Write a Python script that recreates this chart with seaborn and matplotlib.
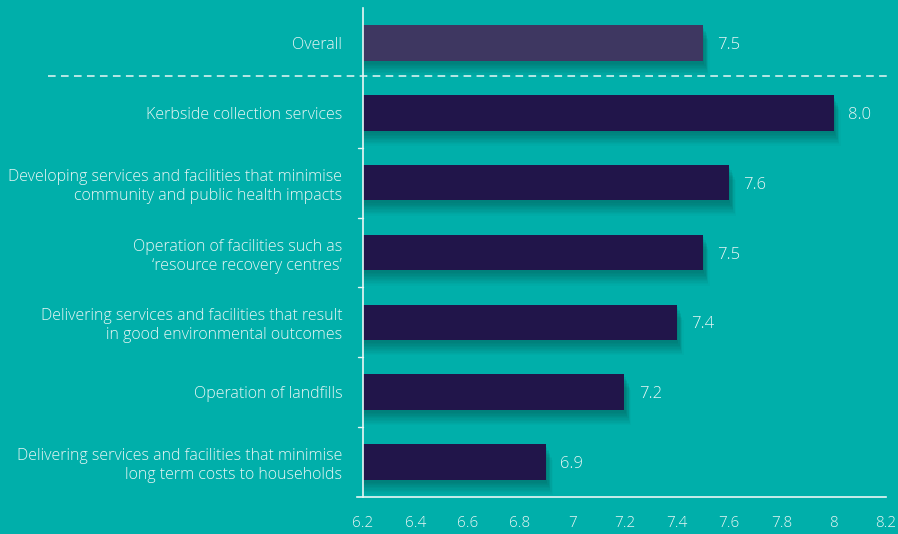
import matplotlib
matplotlib.use("Agg")
import matplotlib.pyplot as plt
import matplotlib.patheffects as pe
import seaborn as sns
import pandas as pd

categories = [
    "Overall",
    "Kerbside collection services",
    "Developing services and facilities that minimise\ncommunity and public health impacts",
    "Operation of facilities such as\n\u2018resource recovery centres\u2019",
    "Delivering services and facilities that result\nin good environmental outcomes",
    "Operation of landfills",
    "Delivering services and facilities that minimise\nlong term costs to households",
]
scores = [7.5, 8.0, 7.6, 7.5, 7.4, 7.2, 6.9]
x_ticks = [6.2, 6.4, 6.6, 6.8, 7.0, 7.2, 7.4, 7.6, 7.8, 8.0, 8.2]

BG = "#00AFAA"
BAR = "#21154A"
OVERALL = "#3E3761"
TEXT = "#E8F6F5"
SHADOW = "#00605C"

sns.set_theme(style="white")
plt.rcParams["font.family"] = ["Open Sans", "DejaVu Sans"]
plt.rcParams["font.weight"] = "light"

df = pd.DataFrame({"category": categories, "score": scores})

fig = plt.figure(figsize=(8.98, 5.34), dpi=100, facecolor=BG)
ax = fig.add_axes([0.4042, 0.0693, 0.5824, 0.9157])
ax.set_facecolor(BG)

palette = {c: (OVERALL if c == "Overall" else BAR) for c in categories}
sns.barplot(data=df, x="score", y="category", hue="category", palette=palette,
            order=categories, orient="h", width=0.51, saturation=1,
            legend=False, ax=ax)

# soft drop shadow under each bar, built from stacked translucent copies
shadow_fx = []
for dx, dy, a in [(5, -11, 0.04), (4, -10, 0.05), (4, -9, 0.06), (3, -8, 0.07),
                  (3, -7, 0.08), (3, -6, 0.08), (2, -5, 0.09), (2, -4, 0.09),
                  (1, -3, 0.09), (1, -2, 0.09)]:
    shadow_fx.append(pe.SimplePatchShadow(offset=(dx, dy), shadow_rgbFace=SHADOW, alpha=a))
shadow_fx.append(pe.Normal())
for bar in ax.patches:
    bar.set_linewidth(0)
    bar.set_path_effects(shadow_fx)

ax.set_xlim(6.2, 8.2)
ax.set_ylim(len(categories) - 0.5, -0.5)
ax.set_xticks(x_ticks)
ax.set_xticklabels([f"{v:g}" for v in x_ticks])

for i, v in enumerate(scores):
    ax.text(v + 0.055, i, f"{v:.1f}", va="center_baseline", ha="left",
            color=TEXT, fontsize=12)

# dashed separator between the overall score and the individual services
ax.plot([-0.602, 1.01], [0.47, 0.47], transform=ax.get_yaxis_transform(),
        color="#E8F6F5", lw=1.1, ls=(0, (5, 3.5)), clip_on=False)

ax.set_xlabel("")
ax.set_ylabel("")
ax.set_yticks(range(len(categories)))
ax.set_yticklabels(categories, fontsize=11.5, color=TEXT, linespacing=1.25)
ax.tick_params(axis="y", length=0, pad=15)
ax.tick_params(axis="x", colors=TEXT, labelsize=11, length=4, width=1,
               direction="out", pad=10)
for lbl in ax.get_xticklabels():
    lbl.set_color(TEXT)

# small boundary ticks between the service rows
for b in [1.5, 2.5, 3.5, 4.5, 5.5]:
    ax.plot([-0.009, 0], [b, b], transform=ax.get_yaxis_transform(),
            color=TEXT, lw=1, clip_on=False)

for side in ["top", "right"]:
    ax.spines[side].set_visible(False)
ax.spines["left"].set_color(TEXT)
ax.spines["left"].set_linewidth(1.2)
ax.spines["bottom"].set_color(TEXT)
ax.spines["bottom"].set_linewidth(1.2)
ax.spines["bottom"].set_bounds(6.177, 8.2)

fig.savefig("out.png", dpi=100, facecolor=BG)
